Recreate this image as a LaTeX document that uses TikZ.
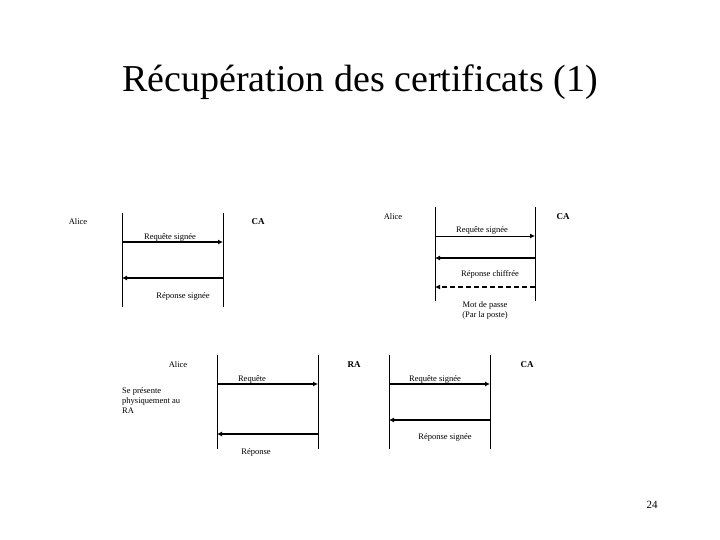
\documentclass[tikz,border=0pt]{standalone}
\usepackage{fontspec}
\setmainfont{Liberation Serif}
\usetikzlibrary{arrows.meta}
\begin{document}
\begin{tikzpicture}[x=1pt,y=-1pt,
  lbl/.style={font=\fontsize{8.5}{10}\selectfont,inner sep=0pt},
  life/.style={line width=0.8pt},
  msg/.style={line width=1.6pt,-{Latex[length=5pt,width=5pt]}},
  thinmsg/.style={line width=0.9pt,-{Latex[length=5pt,width=5pt]}}]
\useasboundingbox (0,0) rectangle (720,540);
\node[font=\fontsize{38}{44}\selectfont] (title) at (360,82) {Récupération des certificats (1)};
\node[font=\fontsize{11}{13}\selectfont] (pg) at (652,505) {24};
% Diagram 1
\coordinate (a1t) at (122,213); \coordinate (a1b) at (122,307);
\coordinate (c1t) at (223,213); \coordinate (c1b) at (223,307);
\draw[life] (a1t) -- (a1b); \draw[life] (c1t) -- (c1b);
\node[lbl] (alice1) at (78,222) {Alice};
\node[lbl,font=\fontsize{9}{10}\selectfont\bfseries] (ca1) at (258,222) {CA};
\coordinate (m1a) at (122,242); \coordinate (m1b) at (223,242);
\draw[msg] (m1a) -- (m1b);
\node[lbl] (l1) at (170,237) {Requête signée};
\coordinate (m2a) at (223,278); \coordinate (m2b) at (122,278);
\draw[msg] (m2a) -- (m2b);
\node[lbl] (l2) at (183,296) {Réponse signée};
% Diagram 2
\coordinate (a2t) at (435,207); \coordinate (a2b) at (435,301);
\coordinate (c2t) at (535,207); \coordinate (c2b) at (535,301);
\draw[life] (a2t) -- (a2b); \draw[life] (c2t) -- (c2b);
\node[lbl] (alice2) at (393,217) {Alice};
\node[lbl,font=\fontsize{9}{10}\selectfont\bfseries] (ca2) at (563,217) {CA};
\coordinate (m3a) at (435,236); \coordinate (m3b) at (535,236);
\draw[thinmsg] (m3a) -- (m3b);
\node[lbl] (l3) at (482,230) {Requête signée};
\coordinate (m4a) at (535,258); \coordinate (m4b) at (435,258);
\draw[msg] (m4a) -- (m4b);
\node[lbl] (l4) at (490,274) {Réponse chiffrée};
\coordinate (m5a) at (535,287); \coordinate (m5b) at (435,287);
\draw[msg,dash pattern=on 5pt off 3pt] (m5a) -- (m5b);
\node[lbl,align=center] (l5) at (485,310) {Mot de passe\\(Par la poste)};
% Diagram 3
\coordinate (a3t) at (217,355); \coordinate (a3b) at (217,449);
\coordinate (r3t) at (318,355); \coordinate (r3b) at (318,449);
\coordinate (r4t) at (389,355); \coordinate (r4b) at (389,449);
\coordinate (c3t) at (490,355); \coordinate (c3b) at (490,449);
\draw[life] (a3t) -- (a3b); \draw[life] (r3t) -- (r3b);
\draw[life] (r4t) -- (r4b); \draw[life] (c3t) -- (c3b);
\node[lbl] (alice3) at (178,365) {Alice};
\node[lbl,font=\fontsize{9}{10}\selectfont\bfseries] (ra3) at (354,365) {RA};
\node[lbl,font=\fontsize{9}{10}\selectfont\bfseries] (ca3) at (527,365) {CA};
\node[lbl,align=left,anchor=north west] (sp) at (122,387) {Se présente\\physiquement au\\RA};
\coordinate (m6a) at (217,384); \coordinate (m6b) at (318,384);
\draw[msg] (m6a) -- (m6b);
\node[lbl] (l6) at (252,379) {Requête};
\coordinate (m7a) at (318,434); \coordinate (m7b) at (217,434);
\draw[msg] (m7a) -- (m7b);
\node[lbl] (l7) at (256,452) {Réponse};
\coordinate (m8a) at (389,384); \coordinate (m8b) at (490,384);
\draw[msg] (m8a) -- (m8b);
\node[lbl] (l8) at (435,379) {Requête signée};
\coordinate (m9a) at (490,420); \coordinate (m9b) at (389,420);
\draw[msg] (m9a) -- (m9b);
\node[lbl] (l9) at (445,437) {Réponse signée};
\end{tikzpicture}
\end{document}
